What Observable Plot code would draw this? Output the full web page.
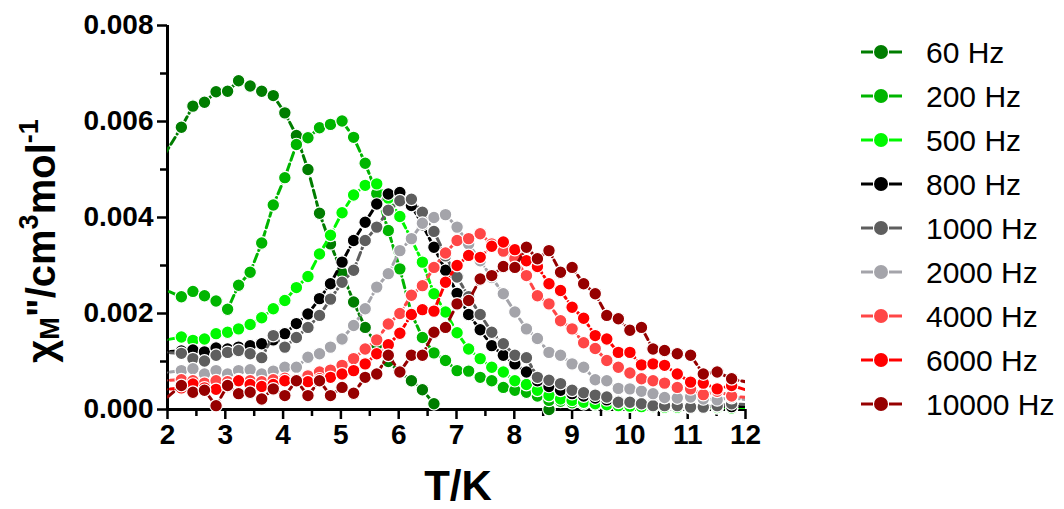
<!DOCTYPE html>
<html><head><meta charset="utf-8">
<script src="https://cdn.jsdelivr.net/npm/d3@7"></script>
<script src="https://cdn.jsdelivr.net/npm/@observablehq/plot@0.6"></script>
<style>
html,body{margin:0;padding:0;background:#fff;}
#chart{position:relative;width:1064px;height:509px;}
</style></head><body><div id="chart"></div>
<script>
// Temperatures (K) shared by all series (first and last lie just outside the axis range)
const temperatures = [1.84, 2.24, 2.44, 2.64, 2.84, 3.04, 3.23, 3.43, 3.63, 3.83, 4.03, 4.23, 4.43, 4.63, 4.82, 5.02, 5.22, 5.42, 5.62, 5.82, 6.02, 6.22, 6.41, 6.61, 6.81, 7.01, 7.21, 7.41, 7.61, 7.81, 8.01, 8.21, 8.40, 8.60, 8.80, 9.00, 9.20, 9.40, 9.60, 9.80, 10.00, 10.20, 10.40, 10.60, 10.82, 11.05, 11.27, 11.51, 11.76, 12.03];
// chi_M'' values in units of 1e-3 cm3/mol
const chi60 = [5.1, 5.88, 6.32, 6.40, 6.62, 6.63, 6.85, 6.74, 6.63, 6.54, 6.18, 5.71, 5.00, 4.09, 3.45, 2.85, 2.24, 1.71, 1.35, 1.0, 0.78, 0.6, 0.41, 0.12, -0.2, -0.35, -0.4, -0.35, -0.3, -0.2, -0.12, -0.1, -0.08, 0.0, -0.08, -0.1, -0.09, -0.1, -0.1, -0.09, -0.1, -0.1, -0.1, -0.1, -0.1, -0.1, -0.1, -0.1, -0.1, -0.1];
const chi200 = [2.55, 2.35, 2.46, 2.37, 2.26, 2.09, 2.59, 2.86, 3.47, 4.26, 4.83, 5.52, 5.66, 5.87, 5.94, 6.01, 5.67, 5.13, 4.5, 3.73, 2.93, 2.0, 1.5, 1.18, 1.02, 0.81, 0.8, 0.67, 0.6, 0.46, 0.4, 0.36, 0.28, 0.19, 0.17, 0.14, 0.12, 0.1, 0.09, 0.08, 0.07, 0.06, 0.06, 0.05, 0.05, 0.04, 0.04, 0.04, 0.03, 0.03];
const chi500 = [1.42, 1.51, 1.44, 1.47, 1.58, 1.61, 1.68, 1.77, 1.91, 2.1, 2.27, 2.54, 2.77, 3.24, 3.63, 4.10, 4.47, 4.67, 4.70, 4.4, 4.02, 3.55, 3.07, 2.41, 2.03, 1.6, 1.26, 1.06, 0.88, 0.78, 0.6, 0.52, 0.4, 0.29, 0.22, 0.19, 0.15, 0.12, 0.1, 0.08, 0.07, 0.06, 0.06, 0.05, 0.05, 0.04, 0.04, 0.04, 0.03, 0.03];
const chi800 = [1.2, 1.22, 1.24, 1.2, 1.28, 1.26, 1.3, 1.33, 1.37, 1.45, 1.58, 1.79, 1.99, 2.31, 2.62, 3.07, 3.52, 3.9, 4.28, 4.49, 4.52, 4.25, 3.85, 3.38, 2.9, 2.42, 1.98, 1.66, 1.33, 1.13, 0.95, 0.78, 0.6, 0.48, 0.4, 0.33, 0.28, 0.24, 0.2, 0.17, 0.15, 0.13, 0.11, 0.1, 0.09, 0.08, 0.07, 0.07, 0.06, 0.06];
const chi1000 = [1.2, 1.17, 1.06, 1.01, 1.13, 1.19, 1.23, 1.16, 1.08, 1.54, 1.3, 1.5, 1.71, 1.96, 2.3, 2.65, 2.9, 3.52, 3.8, 4.15, 4.35, 4.38, 4.11, 3.71, 3.2, 2.76, 2.35, 1.98, 1.61, 1.37, 1.13, 1.08, 0.67, 0.61, 0.54, 0.4, 0.35, 0.3, 0.26, 0.15, 0.15, 0.12, 0.08, 0.08, 0.08, 0.05, 0.05, 0.08, 0.12, 0.1];
const chi2000 = [0.75, 0.81, 0.85, 0.74, 0.81, 0.74, 0.81, 0.83, 0.74, 0.8, 0.88, 0.88, 1.09, 1.16, 1.3, 1.47, 1.75, 2.1, 2.55, 2.83, 3.31, 3.56, 3.88, 4.0, 4.06, 3.8, 3.45, 3.1, 2.75, 2.41, 2.03, 1.68, 1.48, 1.19, 1.13, 0.95, 0.88, 0.62, 0.6, 0.44, 0.43, 0.38, 0.33, 0.25, 0.24, 0.26, 0.22, 0.2, 0.25, 0.2];
const chi4000 = [0.6, 0.62, 0.6, 0.55, 0.6, 0.58, 0.62, 0.6, 0.58, 0.62, 0.65, 0.62, 0.7, 0.78, 0.82, 0.92, 1.06, 1.26, 1.45, 1.78, 2.0, 2.38, 2.58, 2.96, 3.26, 3.52, 3.56, 3.66, 3.45, 3.3, 3.14, 2.79, 2.37, 2.2, 1.85, 1.68, 1.39, 1.27, 1.02, 0.88, 0.76, 0.64, 0.6, 0.55, 0.46, 0.43, 0.31, 0.38, 0.28, 0.25];
const chi6000 = [0.4, 0.45, 0.53, 0.45, 0.42, 0.48, 0.6, 0.52, 0.48, 0.52, 0.6, 0.62, 0.58, 0.64, 0.67, 0.74, 0.81, 0.95, 1.16, 1.35, 1.59, 1.98, 2.08, 2.05, 2.65, 3.0, 3.21, 3.17, 3.4, 3.49, 3.33, 3.1, 2.98, 2.62, 2.48, 2.13, 1.9, 1.54, 1.47, 1.19, 1.19, 0.93, 0.95, 0.92, 0.74, 0.57, 0.55, 0.43, 0.5, 0.4];
const chi10000 = [0.1, 0.5, 0.36, 0.4, 0.08, 0.5, 0.33, 0.36, 0.22, 0.43, 0.29, 0.6, 0.29, 0.6, 0.29, 0.46, 0.34, 0.67, 0.74, 1.13, 0.78, 1.13, 1.13, 1.61, 1.71, 2.2, 2.27, 2.72, 2.79, 2.98, 2.96, 3.38, 3.14, 3.31, 2.86, 2.96, 2.62, 2.41, 1.96, 1.89, 1.65, 1.71, 1.26, 1.23, 1.16, 1.13, 0.74, 0.78, 0.64, 0.57];

const frequencies = ["60 Hz", "200 Hz", "500 Hz", "800 Hz", "1000 Hz", "2000 Hz", "4000 Hz", "6000 Hz", "10000 Hz"];
const seriesColors = ["#007d00", "#00b500", "#00f800", "#000000", "#5e5e5e", "#a4a4aa", "#ff4646", "#ff0000", "#960000"];
const seriesValues = [chi60, chi200, chi500, chi800, chi1000, chi2000, chi4000, chi6000, chi10000];

const yTicks = [0, 0.002, 0.004, 0.006, 0.008];
const yMinorTicks = [0.001, 0.003, 0.005, 0.007];
const xTicks = [2, 3, 4, 5, 6, 7, 8, 9, 10, 11, 12];
const xMinorTicks = [2.5, 3.5, 4.5, 5.5, 6.5, 7.5, 8.5, 9.5, 10.5, 11.5];

const FONT = "'Liberation Sans', Arial, Helvetica, sans-serif";

const tables = frequencies.map((f, i) =>
  temperatures.map((t, j) => ({freq: f, T: t, chi: seriesValues[i][j] / 1000}))
);
const inRange = d => d.T >= 2 && d.T <= 12 && d.chi >= 0 && d.chi <= 0.008;

const seriesMarks = [];
tables.forEach(tab => {
  seriesMarks.push(Plot.line(tab, {x: "T", y: "chi", stroke: "freq", strokeWidth: 3, strokeDasharray: "8,4", clip: true}));
  seriesMarks.push(Plot.dot(tab.filter(inRange), {x: "T", y: "chi", fill: "freq", r: 6.3, stroke: "white", strokeWidth: 1.2}));
});

const chart = Plot.plot({
  width: 1064,
  height: 509,
  marginLeft: 167,
  marginRight: 319,
  marginTop: 25,
  marginBottom: 100,
  style: {fontFamily: FONT, background: "white", color: "black", overflow: "visible"},
  x: {domain: [2, 12], label: null},
  y: {domain: [0, 0.008], label: null},
  color: {domain: frequencies, range: seriesColors},
  marks: [
    Plot.axisY(yMinorTicks, {tickSize: 7, tickFormat: () => "", stroke: "black", strokeWidth: 2.5}),
    Plot.axisY(yTicks, {tickSize: 10, tickPadding: 4, tickFormat: d => d.toFixed(3), stroke: "black", strokeWidth: 2.5, fill: "black", fontSize: 28, fontWeight: "bold"}),
    Plot.axisX(xMinorTicks, {tickSize: 7, tickFormat: () => "", stroke: "black", strokeWidth: 2.5}),
    Plot.axisX(xTicks, {tickSize: 10, tickPadding: 5, tickFormat: d => String(d), stroke: "black", strokeWidth: 2.5, fill: "black", fontSize: 28, fontWeight: "bold"}),
    Plot.ruleX([2], {stroke: "black", strokeWidth: 3}),
    Plot.ruleY([0], {stroke: "black", strokeWidth: 3}),
    ...seriesMarks
  ]
});

document.getElementById("chart").appendChild(chart);
const svg = d3.select(chart);

// Y axis title
const yl = svg.append("text")
  .attr("transform", "translate(55,241) rotate(-90)")
  .attr("text-anchor", "middle")
  .attr("font-family", FONT).attr("font-weight", "bold").attr("font-size", 40).attr("fill", "black");
yl.append("tspan").text("χ");
yl.append("tspan").attr("font-size", 27).attr("dy", 4).text("M");
yl.append("tspan").attr("dy", -4).text("\"/cm");
yl.append("tspan").attr("font-size", 27).attr("dy", -17).text("3");
yl.append("tspan").attr("dy", 17).text("mol");
yl.append("tspan").attr("font-size", 27).attr("dy", -17).text("-1");

// X axis title
svg.append("text").attr("x", 458).attr("y", 500).attr("text-anchor", "middle")
  .attr("font-family", FONT).attr("font-weight", "bold").attr("font-size", 42).attr("fill", "black")
  .text("T/K");

// Legend
const color = chart.scale("color");
const lg = svg.append("g").attr("text-anchor", "start");
frequencies.forEach((f, i) => {
  const cy = 52 + i * 44;
  const c = color.apply(f);
  lg.append("line").attr("x1", 861).attr("x2", 873).attr("y1", cy).attr("y2", cy).attr("stroke", c).attr("stroke-width", 3);
  lg.append("line").attr("x1", 889).attr("x2", 902).attr("y1", cy).attr("y2", cy).attr("stroke", c).attr("stroke-width", 3);
  lg.append("circle").attr("cx", 881).attr("cy", cy).attr("r", 7).attr("fill", c);
  lg.append("text").attr("x", 926).attr("y", cy).attr("dy", "0.36em").attr("text-anchor", "start")
    .attr("font-family", FONT).attr("font-size", 30).attr("fill", "black").text(f);
});
</script></body></html>
